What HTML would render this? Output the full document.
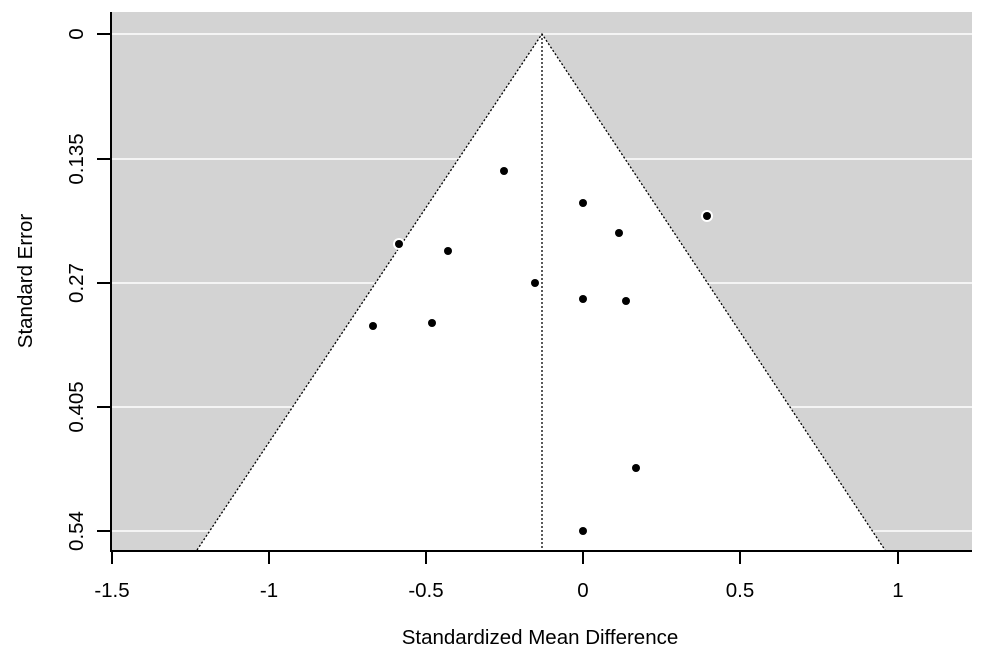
<!DOCTYPE html><html><head><style>body{margin:0;background:#fff}</style></head><body>
<svg width="988" height="660" xmlns="http://www.w3.org/2000/svg" font-family="Liberation Sans, sans-serif">
<rect x="112" y="12" width="860" height="538" fill="#d3d3d3"/>
<g stroke="#fff" stroke-width="1.5">
<line x1="112" x2="972" y1="34" y2="34"/><line x1="112" x2="972" y1="159" y2="159"/><line x1="112" x2="972" y1="283" y2="283"/><line x1="112" x2="972" y1="407" y2="407"/><line x1="112" x2="972" y1="531" y2="531"/>
</g>
<polygon points="542,34 197,550 885,550" fill="#fff"/>
<g stroke="#000" stroke-width="1.3" stroke-dasharray="2,2" fill="none">
<polyline points="197,550 542,34 885,550"/><line x1="542" y1="34" x2="542" y2="550"/>
</g>
<g fill="#000">
<circle cx="504" cy="171" r="4"/><circle cx="583" cy="203" r="4"/><circle cx="707" cy="216" r="6" fill="#fff"/><circle cx="707" cy="216" r="4"/><circle cx="619" cy="233" r="4"/><circle cx="399" cy="244" r="6" fill="#fff"/><circle cx="399" cy="244" r="4"/><circle cx="448" cy="251" r="4"/><circle cx="535" cy="283" r="4"/><circle cx="583" cy="299" r="4"/><circle cx="626" cy="301" r="4"/><circle cx="432" cy="323" r="4"/><circle cx="373" cy="326" r="4"/><circle cx="636" cy="468" r="4"/><circle cx="583" cy="531" r="4"/>
</g>
<g stroke="#000" stroke-width="2">
<line x1="111" y1="12" x2="111" y2="551"/><line x1="110" y1="551" x2="972" y2="551"/>
<line x1="112" y1="551" x2="112" y2="564"/><line x1="269" y1="551" x2="269" y2="564"/><line x1="426" y1="551" x2="426" y2="564"/><line x1="583" y1="551" x2="583" y2="564"/><line x1="740" y1="551" x2="740" y2="564"/><line x1="898" y1="551" x2="898" y2="564"/>
<line x1="97" y1="34" x2="111" y2="34"/><line x1="97" y1="159" x2="111" y2="159"/><line x1="97" y1="283" x2="111" y2="283"/><line x1="97" y1="407" x2="111" y2="407"/><line x1="97" y1="531" x2="111" y2="531"/>
</g>
<g font-size="20.5" text-anchor="middle" fill="#000">
<text x="112" y="597">-1.5</text><text x="269" y="597">-1</text><text x="426" y="597">-0.5</text><text x="583" y="597">0</text><text x="740" y="597">0.5</text><text x="898" y="597">1</text>
<text x="540" y="644">Standardized Mean Difference</text>
<g transform="translate(83,0)">
<text transform="translate(0,34) rotate(-90)">0</text><text transform="translate(0,159) rotate(-90)">0.135</text><text transform="translate(0,283) rotate(-90)">0.27</text><text transform="translate(0,407) rotate(-90)">0.405</text><text transform="translate(0,531) rotate(-90)">0.54</text>
</g>
<text transform="translate(32,281) rotate(-90)">Standard Error</text>
</g>
</svg></body></html>
